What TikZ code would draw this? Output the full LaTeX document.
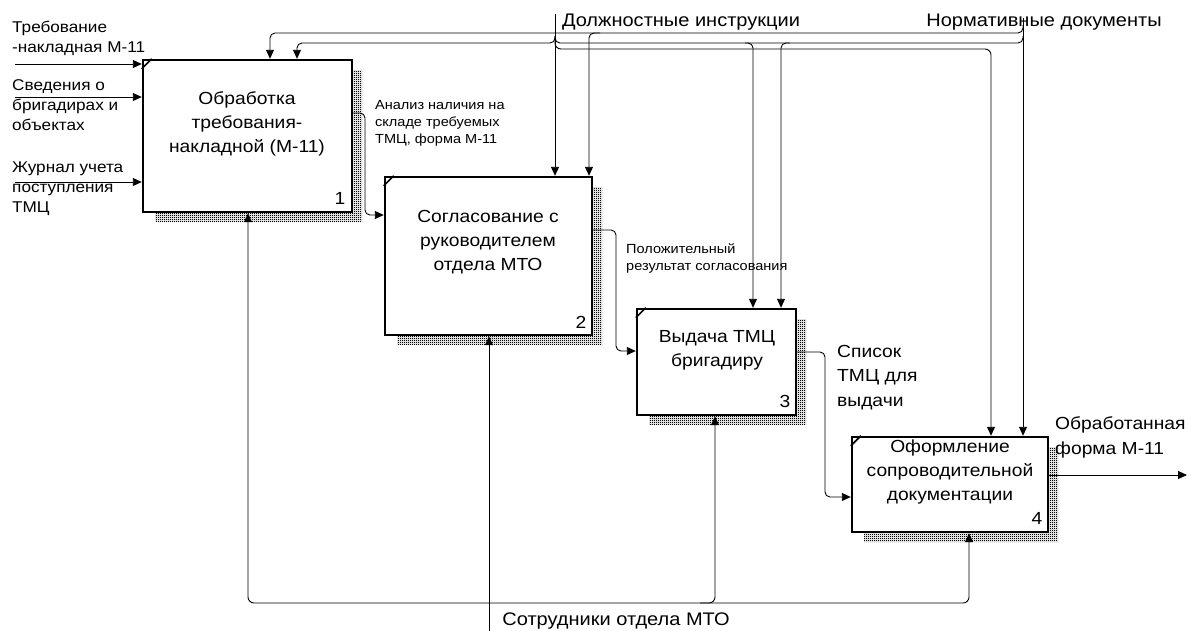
\documentclass[tikz,border=0pt]{standalone}
\usepackage{fontspec}
\setmainfont{Liberation Sans}[FakeStretch=1.1]
\usetikzlibrary{arrows.meta,patterns.meta}
\newcommand\fbig{\fontsize{17.5}{24}\selectfont}
\newcommand\ftop{\fontsize{18.2}{24}\selectfont}
\newcommand\flab{\fontsize{17.5}{24.5}\selectfont}
\newcommand\fin{\fontsize{15.6}{20}\selectfont}
\newcommand\fsm{\fontsize{13.2}{17}\selectfont}
\tikzdeclarepattern{name=shadedots, type=uncolored,
  bounding box={(0,0) and (2pt,2pt)}, tile size={(2pt,2pt)},
  code={\fill (0,0) rectangle (1.2pt,1.2pt); \fill (1pt,1pt) rectangle (2pt,2pt);}}
\begin{document}
\begin{tikzpicture}[x=1pt,y=-1pt,
  box/.style={draw, line width=2.4pt, fill=white, inner sep=0pt},
  txt/.style={inner sep=0pt, align=center, font=\fbig},
  ttxt/.style={inner sep=0pt, align=center, font=\ftop},
  ltxt/.style={inner sep=0pt, align=left, anchor=west},
  num/.style={inner sep=0pt, font=\fbig},
  arr/.style={line width=0.9pt, -{Triangle[length=9pt,width=8pt]}},
  ln/.style={line width=0.9pt},
  shad/.style={pattern=shadedots, pattern color=black},
  cornermark/.style={line width=1.6pt}
]
\useasboundingbox (0,0) rectangle (1191,630);

% shadows
\fill[shad] (352,70) rectangle (362,222) (155,212) rectangle (362,222);
\fill[shad] (592,187) rectangle (602,345) (397,335) rectangle (602,345);
\fill[shad] (796,319) rectangle (806,425) (649,415) rectangle (806,425);
\fill[shad] (1048,447) rectangle (1058,542) (864,532) rectangle (1058,542);

% boxes
\node[box, minimum width=209pt, minimum height=152pt] (b1) at (247.5,136) {};
\node[box, minimum width=207pt, minimum height=158pt] (b2) at (488.5,256) {};
\node[box, minimum width=159pt, minimum height=106pt] (b3) at (716.5,362) {};
\node[box, minimum width=196pt, minimum height=95pt] (b4) at (950,484.5) {};
\foreach \b in {b1,b2,b3,b4}
  \draw[cornermark] ([yshift=-10pt]\b.north west) -- ([xshift=10pt]\b.north west);

\node[txt] (t1) at (247,124) {Обработка\\требования-\\накладной (М-11)};
\node[txt] (t2) at (488,242) {Согласование с\\руководителем\\отдела МТО};
\node[txt] (t3) at (717,350) {Выдача ТМЦ\\бригадиру};
\node[txt] (t4) at (950,472) {Оформление\\сопроводительной\\документации};
\node[num] (n1) at (340,198) {1};
\node[num] (n2) at (581,322) {2};
\node[num] (n3) at (785,401) {3};
\node[num] (n4) at (1037,518) {4};

% inputs
\node[ltxt, font=\fin] (i1) at (12,38) {Требование\\-накладная М-11};
\node[ltxt, font=\fin] (i2) at (12,105) {Сведения о\\бригадирах и\\объектах};
\node[ltxt, font=\fin] (i3) at (12,189) {Журнал учета\\поступления\\ТМЦ};
\coordinate (s1) at (15,64);
\coordinate (s2) at (15,97);
\coordinate (s3) at (15,182);
\draw[arr] (s1) -- (b1.west |- s1);
\draw[arr] (s2) -- (b1.west |- s2);
\draw[arr] (s3) -- (b1.west |- s3);

% controls
\node[ttxt] (di) at (681,22) {Должностные инструкции};
\node[ttxt] (nd) at (1044,22) {Нормативные документы};
\draw[arr] (1023,18) -- (1023,0 |- b4.north);
\draw[arr, rounded corners=5pt] (1023,25) |- (270,33) -- (270,0 |- b1.north);
\draw[arr, rounded corners=5pt] (600,33) -| (589,0 |- b2.north);
\draw[arr] (555,14) -- (555,0 |- b2.north);
\draw[arr, rounded corners=5pt] (555,36) |- (297,43) -- (297,0 |- b1.north);
\draw[ln, rounded corners=5pt] (555,36) |- (1023,43) -- (1023,36);
\draw[arr, rounded corners=5pt] (745,43) -| (753,0 |- b3.north);
\draw[arr, rounded corners=5pt] (790,43) -| (781,0 |- b3.north);
\draw[arr, rounded corners=6pt] (555,38) |- (991,49) -- (991,0 |- b4.north);

% outputs
\node[ltxt, font=\fsm] (o1) at (375,123) {Анализ наличия на\\складе требуемых\\ТМЦ, форма М-11};
\node[ltxt, font=\fsm] (o2) at (626,258.5) {Положительный\\результат согласования};
\node[ltxt, font=\flab] (o3) at (837,377.5) {Список\\ТМЦ для\\выдачи};
\node[ltxt, font=\flab] (o4) at (1055,437.5) {Обработанная\\форма М-11};
\draw[arr, rounded corners=5pt] (b1.east |- 0,113) -- (365,113) |- (b2.west |- 0,215);
\draw[arr, rounded corners=5pt] (b2.east |- 0,230) -- (616,230) |- (b3.west |- 0,351);
\draw[arr, rounded corners=5pt] (b3.east |- 0,352) -- (825,352) |- (b4.west |- 0,497);
\coordinate (out) at (1187,475);
\draw[arr] (b4.east |- out) -- (out);

% mechanisms
\node[ttxt] (so) at (616,621) {Сотрудники отдела МТО};
\draw[arr] (489,632) -- (489,0 |- b2.south);
\draw[arr, rounded corners=6pt] (489,603) -| (248,0 |- b1.south);
\draw[arr, rounded corners=6pt] (489,603) -| (969,0 |- b4.south);
\draw[arr, rounded corners=6pt] (700,603) -| (715,0 |- b3.south);
\end{tikzpicture}
\end{document}
